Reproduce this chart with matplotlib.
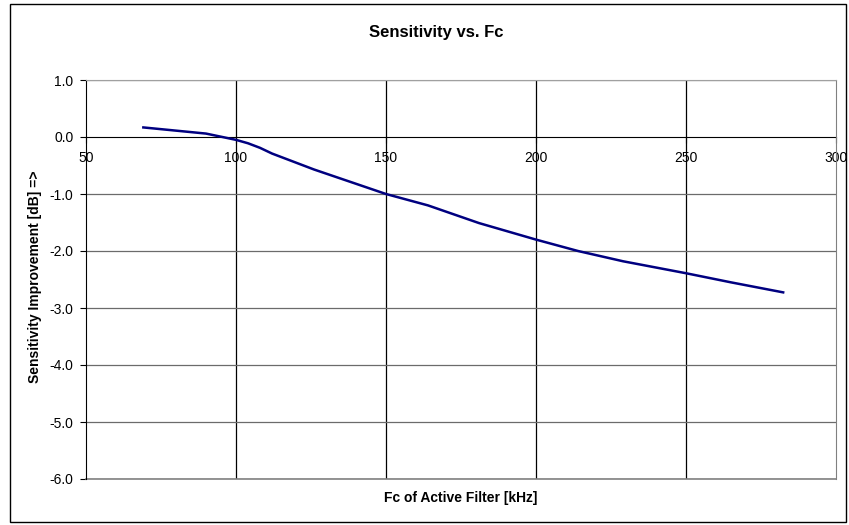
import matplotlib
matplotlib.use("Agg")
import matplotlib.pyplot as plt
from matplotlib.patches import Rectangle

fc_khz = [68.7, 90, 100, 104, 108, 112, 126, 150, 164, 181, 200, 214, 229, 250, 265, 282.8]
sens_db = [0.17, 0.06, -0.05, -0.11, -0.19, -0.29, -0.57, -1.0, -1.2, -1.51, -1.80, -2.0, -2.18, -2.39, -2.55, -2.73]
x_ticks = [50, 100, 150, 200, 250, 300]
y_ticks = [1.0, 0.0, -1.0, -2.0, -3.0, -4.0, -5.0, -6.0]

plt.rcParams['font.family'] = ['Liberation Sans', 'DejaVu Sans']

fig = plt.figure(figsize=(8.49, 5.25), dpi=100)
W, H = 849, 525
ax = fig.add_axes([86 / W, 1 - 479 / H, (836 - 86) / W, (479 - 80) / H])

# outer chart frame
fig.patches.append(Rectangle((10 / W, 3 / H), (846 - 10) / W, (521 - 3) / H,
                             transform=fig.transFigure, fill=False,
                             edgecolor='black', linewidth=1.0))

ax.set_xlim(50, 300)
ax.set_ylim(-6, 1)

for xv in x_ticks[1:-1]:
    ax.axvline(xv, color='black', linewidth=0.9, zorder=1)
for yv in y_ticks:
    if yv != 0.0:
        ax.axhline(yv, color='#6b6b6b', linewidth=0.9, zorder=1)

ax.plot(fc_khz, sens_db, color='#000080', linewidth=1.8, zorder=3,
        solid_capstyle='butt')

ax.spines['top'].set_color('#a0a0a0')
ax.spines['right'].set_color('#808080')
ax.spines['left'].set_color('black')
ax.spines['bottom'].set_position(('data', 0))
ax.spines['bottom'].set_color('black')
ax.spines['bottom'].set_zorder(2)
# bottom border of plot area
ax.plot([50, 300], [-6, -6], color='#808080', linewidth=1.2, clip_on=False, zorder=2)

ax.set_xticks(x_ticks)
ax.set_xticklabels([str(v) for v in x_ticks])
ax.set_yticks(y_ticks)
ax.set_yticklabels([f"{v:.1f}" for v in y_ticks])
ax.tick_params(axis='x', direction='out', length=4, width=0.8, labelsize=10, pad=6)
ax.tick_params(axis='y', direction='out', length=4, width=0.8, labelsize=10, pad=5)

fig.text(436 / W, 1 - 32 / H, 'Sensitivity vs. Fc', ha='center', va='center',
         fontsize=12, fontweight='bold')
fig.text(461 / W, 1 - 498 / H, 'Fc of Active Filter [kHz]', ha='center', va='center',
         fontsize=10, fontweight='bold')
fig.text(35 / W, 1 - 277 / H, 'Sensitivity Improvement [dB] =>', ha='center', va='center',
         rotation=90, fontsize=10, fontweight='bold')

fig.savefig('out.png', dpi=100)
